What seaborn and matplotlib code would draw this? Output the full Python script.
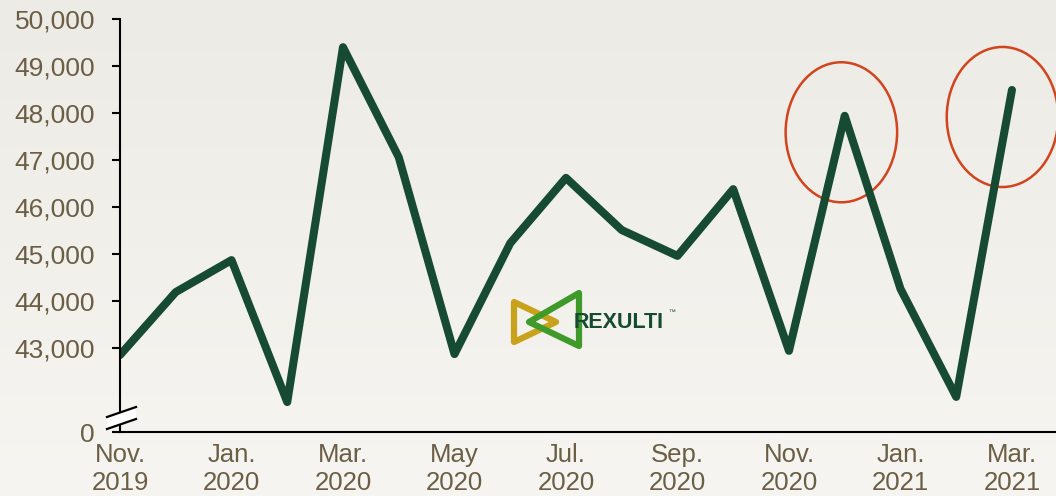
import numpy as np
import matplotlib
matplotlib.use("Agg")
import matplotlib.pyplot as plt
import seaborn as sns
import pandas as pd
from matplotlib.patches import Ellipse, Polygon
from matplotlib.lines import Line2D
from matplotlib.colors import LinearSegmentedColormap

months = ["Nov. 2019", "Dec. 2019", "Jan. 2020", "Feb. 2020", "Mar. 2020", "Apr. 2020",
          "May 2020", "Jun. 2020", "Jul. 2020", "Aug. 2020", "Sep. 2020", "Oct. 2020",
          "Nov. 2020", "Dec. 2020", "Jan. 2021", "Feb. 2021", "Mar. 2021"]
values = [42850, 44190, 44870, 41850, 49400, 47060, 42870, 45230, 46620,
          45510, 44960, 46380, 42940, 47940, 44260, 41960, 48490]
ytick_vals = [43000, 44000, 45000, 46000, 47000, 48000, 49000, 50000]
xtick_labels = ["Nov.\n2019", "Jan.\n2020", "Mar.\n2020", "May\n2020", "Jul.\n2020",
                "Sep.\n2020", "Nov.\n2020", "Jan.\n2021", "Mar.\n2021"]
circled = ["Dec. 2020", "Mar. 2021"]

# broken axis: the bottom of the visible range is labelled "0"
y_floor = 41213

df = pd.DataFrame({"month": months, "value": values})
df["pos"] = range(len(df))

text_col = "#6b5e45"
line_col = "#164a32"

plt.rcParams["font.family"] = ["Liberation Sans", "DejaVu Sans"]

fig = plt.figure(figsize=(10.56, 4.96), dpi=100)
# background gradient
bg = fig.add_axes([0, 0, 1, 1])
grad = np.linspace(0, 1, 256).reshape(-1, 1)
cmap = LinearSegmentedColormap.from_list("bg", ["#ecebe5", "#f6f5f1"])
bg.imshow(grad, aspect="auto", cmap=cmap, extent=[0, 1, 0, 1])
bg.set_axis_off()

ax = fig.add_axes([120 / 1056, 1 - 432 / 496, 1 - 120 / 1056, (432 - 19) / 496])
ax.patch.set_alpha(0)
sns.lineplot(data=df, x="pos", y="value", color=line_col, linewidth=5.8,
             solid_capstyle="round", solid_joinstyle="round", ax=ax)

ax.set_xlim(0, 16.79)
ax.set_ylim(y_floor, 50000)
ax.set_yticks([y_floor] + ytick_vals)
ax.set_yticklabels(["0"] + [f"{v:,}" for v in ytick_vals])
ax.set_xticks(range(0, len(months), 2))
ax.set_xticklabels(xtick_labels)
ax.tick_params(axis="y", length=6, width=1.5, colors="black", labelcolor=text_col,
               labelsize=19, pad=12)
ax.tick_params(axis="x", length=0, labelcolor=text_col, labelsize=18.5, pad=8)
for lbl in ax.get_xticklabels():
    lbl.set_linespacing(1.18)
ax.set_xlabel("")
ax.set_ylabel("")
for s in ["top", "right"]:
    ax.spines[s].set_visible(False)
for s in ["left", "bottom"]:
    ax.spines[s].set_linewidth(1.5)
    ax.spines[s].set_color("black")

# red circles around the highlighted peaks
for m in circled:
    i = months.index(m)
    dx = -0.06 if i == 13 else -0.17
    dy = -350 if i == 13 else -575
    ax.add_patch(Ellipse((i + dx, values[i] + dy), 2.0, 2980, fill=False,
                         edgecolor="#d2441e", linewidth=1.8, clip_on=False))

# axis break marks
def fx(px):
    return px / 1056
def fy(py):
    return 1 - py / 496
brk = Polygon([(fx(107), fy(417)), (fx(136), fy(407)), (fx(136), fy(419)), (fx(107), fy(429))],
              closed=True, transform=fig.transFigure, facecolor="white", edgecolor="none", zorder=5)
fig.patches.append(brk)
for y0 in (417, 429):
    fig.lines.append(Line2D([fx(107), fx(136)], [fy(y0), fy(y0 - 10)], transform=fig.transFigure,
                            color="black", linewidth=1.6, zorder=6))

# logo
tri1 = Polygon([(fx(514), fy(302)), (fx(514), fy(342)), (fx(556), fy(322))], closed=True,
               transform=fig.transFigure, fill=False, edgecolor="#c9a21c", linewidth=4.5,
               joinstyle="round")
tri2 = Polygon([(fx(579), fy(293)), (fx(579), fy(346)), (fx(529), fy(322))], closed=True,
               transform=fig.transFigure, fill=False, edgecolor="#3f9a2a", linewidth=4.5,
               joinstyle="round")
fig.patches.extend([tri1, tri2])
fig.text(fx(574), fy(322), "REXULTI", color=line_col, fontsize=15.5, fontweight="bold",
         va="center", ha="left")
fig.text(fx(668), fy(312), "™", color=line_col, fontsize=5, va="center", ha="left")

fig.savefig("out.png", dpi=100)
